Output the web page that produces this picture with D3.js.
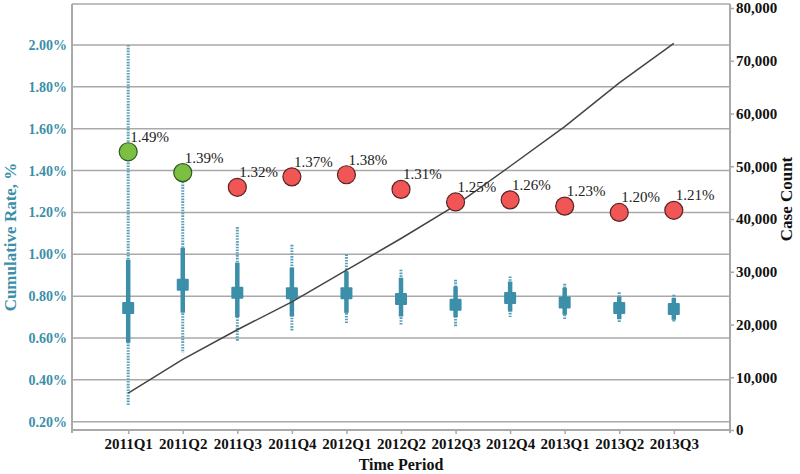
<!DOCTYPE html>
<html>
<head>
<meta charset="utf-8">
<script src="https://cdn.jsdelivr.net/npm/d3@7"></script>
<style>
  body { margin: 0; background: #fff; }
  svg { display: block; }
  text { font-family: 'Liberation Serif', 'Times New Roman', serif; }
</style>
</head>
<body>
<svg id="chart" width="800" height="474"></svg>
<script>
// periodos y valores
const periods = ['2011Q1', '2011Q2', '2011Q3', '2011Q4', '2012Q1', '2012Q2', '2012Q3', '2012Q4', '2013Q1', '2013Q2', '2013Q3'];
const cumulativeRate = [1.49, 1.39, 1.32, 1.37, 1.38, 1.31, 1.25, 1.26, 1.23, 1.20, 1.21];
const rateGood = [true, true, false, false, false, false, false, false, false, false, false];
const caseCount = [7000, 13400, 19000, 24300, 30300, 36300, 42600, 50000, 57500, 65800, 73300];
// rango de la distribucion por periodo (punteado), intercuartil (grueso) y mediana (cuadro)
const rangeHigh = [2.00, 1.40, 1.13, 1.045, 1.00, 0.926, 0.878, 0.894, 0.859, 0.818, 0.807];
const rangeLow = [0.275, 0.53, 0.584, 0.632, 0.668, 0.663, 0.655, 0.70, 0.69, 0.672, 0.675];
const iqrHigh = [0.974, 1.031, 0.96, 0.936, 0.918, 0.888, 0.846, 0.87, 0.84, 0.798, 0.791];
const iqrLow = [0.578, 0.721, 0.70, 0.703, 0.72, 0.703, 0.70, 0.727, 0.711, 0.69, 0.687];
const median = [0.743, 0.854, 0.816, 0.814, 0.814, 0.786, 0.759, 0.791, 0.77, 0.743, 0.739];
const rateTicks = [0.2, 0.4, 0.6, 0.8, 1.0, 1.2, 1.4, 1.6, 1.8, 2.0];
const countTicks = [0, 10000, 20000, 30000, 40000, 50000, 60000, 70000, 80000];

const margin = { top: 4, right: 70, bottom: 44, left: 72 };
const W = 800, H = 474;
const teal = '#3b8fa8';
const gray = '#a9a9a9';

const svg = d3.select('#chart');

const x = d3.scalePoint()
  .domain(periods)
  .range([margin.left, W - margin.right])
  .padding(1.03);

const yRate = d3.scaleLinear()
  .domain([0.2, 2.0])
  .range([421.7, 45]);

const yCount = d3.scaleLinear()
  .domain([0, 80000])
  .range([H - margin.bottom, 8]);

const rows = periods.map((p, i) => ({
  periodo: p,
  rate: cumulativeRate[i],
  good: rateGood[i],
  count: caseCount[i],
  hi: rangeHigh[i],
  lo: rangeLow[i],
  q3: iqrHigh[i],
  q1: iqrLow[i],
  med: median[i]
}));

// lineas de cuadricula
svg.append('g')
  .selectAll('line')
  .data(rateTicks)
  .join('line')
  .attr('x1', margin.left)
  .attr('x2', W - margin.right)
  .attr('y1', d => yRate(d))
  .attr('y2', d => yRate(d))
  .attr('stroke', gray)
  .attr('stroke-width', 1.5);

// borde superior
svg.append('line')
  .attr('x1', margin.left)
  .attr('x2', W - margin.right)
  .attr('y1', margin.top)
  .attr('y2', margin.top)
  .attr('stroke', gray)
  .attr('stroke-width', 1.5);

// eje izquierdo
const yAxisLeft = d3.axisLeft(yRate)
  .tickValues(rateTicks)
  .tickSize(0)
  .tickPadding(5)
  .tickFormat(d => d3.format('.2f')(d) + '%');

const gl = svg.append('g')
  .attr('transform', `translate(${margin.left}, 0)`)
  .call(yAxisLeft);
gl.select('.domain').remove();
gl.selectAll('text')
  .attr('fill', teal)
  .attr('font-size', 14)
  .attr('font-weight', 'bold')
  .attr('font-family', 'Liberation Serif');
svg.append('line')
  .attr('x1', margin.left).attr('x2', margin.left)
  .attr('y1', margin.top).attr('y2', H - margin.bottom + 3)
  .attr('stroke', gray).attr('stroke-width', 2);

// eje derecho
const yAxisRight = d3.axisRight(yCount)
  .tickValues(countTicks)
  .tickSize(4)
  .tickPadding(2)
  .tickFormat(d3.format(','));

const gr = svg.append('g')
  .attr('transform', `translate(${W - margin.right}, 0)`)
  .call(yAxisRight);
gr.select('.domain').remove();
gr.selectAll('.tick line').attr('stroke', gray).attr('stroke-width', 1.5);
gr.selectAll('text')
  .attr('fill', '#111')
  .attr('font-size', 15)
  .attr('font-weight', 'bold')
  .attr('font-family', 'Liberation Serif');
svg.append('line')
  .attr('x1', W - margin.right).attr('x2', W - margin.right)
  .attr('y1', margin.top).attr('y2', H - margin.bottom + 3)
  .attr('stroke', gray).attr('stroke-width', 2);

// eje x
const xAxis = d3.axisBottom(x).tickSize(4).tickPadding(4);
const gx = svg.append('g')
  .attr('transform', `translate(0, ${H - margin.bottom})`)
  .call(xAxis);
gx.select('.domain').remove();
gx.selectAll('.tick line').attr('stroke', gray).attr('stroke-width', 1.5);
gx.selectAll('text')
  .attr('fill', '#111')
  .attr('font-size', 15)
  .attr('font-weight', 'bold')
  .attr('font-family', 'Liberation Serif');
svg.append('line')
  .attr('x1', margin.left).attr('x2', W - margin.right)
  .attr('y1', H - margin.bottom).attr('y2', H - margin.bottom)
  .attr('stroke', gray).attr('stroke-width', 2);

// titulos de ejes
svg.append('text')
  .attr('transform', `translate(16, 237) rotate(-90)`)
  .attr('text-anchor', 'middle')
  .attr('fill', teal)
  .attr('font-size', 17)
  .attr('font-weight', 'bold')
  .text('Cumulative Rate, %');

svg.append('text')
  .attr('transform', `translate(792, 199) rotate(-90)`)
  .attr('text-anchor', 'middle')
  .attr('fill', '#111')
  .attr('font-size', 17)
  .attr('font-weight', 'bold')
  .text('Case Count');

svg.append('text')
  .attr('x', (margin.left + W - margin.right) / 2)
  .attr('y', 470)
  .attr('text-anchor', 'middle')
  .attr('fill', '#111')
  .attr('font-size', 16)
  .attr('font-weight', 'bold')
  .text('Time Period');

// distribucion: rango punteado
svg.append('g')
  .selectAll('line')
  .data(rows)
  .join('line')
  .attr('x1', d => x(d.periodo))
  .attr('x2', d => x(d.periodo))
  .attr('y1', d => yRate(d.hi))
  .attr('y2', d => yRate(d.lo))
  .attr('stroke', '#5a9fb8')
  .attr('stroke-width', 3)
  .attr('stroke-dasharray', '1.6,1.2');

// intercuartil
svg.append('g')
  .selectAll('line')
  .data(rows)
  .join('line')
  .attr('x1', d => x(d.periodo))
  .attr('x2', d => x(d.periodo))
  .attr('y1', d => yRate(d.q3))
  .attr('y2', d => yRate(d.q1))
  .attr('stroke', teal)
  .attr('stroke-width', 4.5);

// mediana
svg.append('g')
  .selectAll('rect')
  .data(rows)
  .join('rect')
  .attr('x', d => x(d.periodo) - 6)
  .attr('y', d => yRate(d.med) - 6)
  .attr('width', 12)
  .attr('height', 12)
  .attr('rx', 1)
  .attr('fill', teal);

// linea de casos
const line = d3.line()
  .x(d => x(d.periodo))
  .y(d => yCount(d.count));

svg.append('path')
  .datum(rows)
  .attr('fill', 'none')
  .attr('stroke', '#444')
  .attr('stroke-width', 1.5)
  .attr('d', line);

// tasa acumulada
svg.append('g')
  .selectAll('circle')
  .data(rows)
  .join('circle')
  .attr('cx', d => x(d.periodo))
  .attr('cy', d => yRate(d.rate))
  .attr('r', 9)
  .attr('fill', d => (d.good ? '#7cc043' : '#f05656'))
  .attr('stroke', d => (d.good ? '#2f5a1c' : '#5c2222'))
  .attr('stroke-width', 1.2);

svg.append('g')
  .selectAll('text')
  .data(rows)
  .join('text')
  .attr('x', d => x(d.periodo) + 2)
  .attr('y', d => yRate(d.rate) - 10)
  .attr('fill', '#222')
  .attr('font-size', 15)
  .text(d => d3.format('.2f')(d.rate) + '%');
</script>
</body>
</html>
